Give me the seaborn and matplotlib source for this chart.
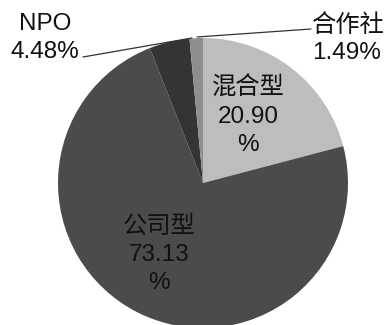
import matplotlib
matplotlib.use("Agg")
import matplotlib.pyplot as plt
import seaborn as sns
import numpy as np

categories = ["混合型", "公司型", "NPO", "合作社"]
values = [20.90, 73.13, 4.48, 1.49]
colors = ["#bdbdbd", "#4b4b4b", "#343434", "#8e8e8e"]

sns.set_theme(style="white")
plt.rcParams['font.family'] = ['Liberation Sans', 'Noto Sans CJK SC', 'DejaVu Sans']

fig = plt.figure(figsize=(3.85, 3.25), dpi=100)
ax = fig.add_axes([0, 0, 1, 1])
wedges, _ = ax.pie(values, colors=colors, startangle=90, counterclock=False,
                   wedgeprops=dict(linewidth=0))
ax.set_aspect('auto')
cx, cy, r = 203, 183, 145
ax.set_xlim(-cx / r, (385 - cx) / r)
ax.set_ylim(-(325 - cy) / r, cy / r)
ax.axis('off')

def d(px, py):
    return ((px - cx) / r, (cy - py) / r)

fs = 17.5
# inside labels
ax.text(*d(248, 116), f"{categories[0]}\n{values[0]:.2f}\n%", ha='center', va='center',
        fontsize=fs, linespacing=1.35, color='#111111')
ax.text(*d(159, 255), f"{categories[1]}\n{values[1]:.2f}\n%", ha='center', va='center',
        fontsize=fs, linespacing=1.35, color='#111111')
# outside labels with leader lines
ax.text(*d(45, 38), f"{categories[2]}\n{values[2]:.2f}%", ha='center', va='center',
        fontsize=fs, linespacing=1.35, color='#111111')
ax.text(*d(347, 39), f"{categories[3]}\n{values[3]:.2f}%", ha='center', va='center',
        fontsize=fs, linespacing=1.3, color='#111111')

x0, y0 = d(83, 57)
x1, y1 = d(192, 38)
ax.plot([x0, x1], [y0, y1], color='#333333', lw=0.9)
x0, y0 = d(197, 37)
x1, y1 = d(311, 29)
ax.plot([x0, x1], [y0, y1], color='#333333', lw=0.9)

fig.savefig("out.png", dpi=100)
